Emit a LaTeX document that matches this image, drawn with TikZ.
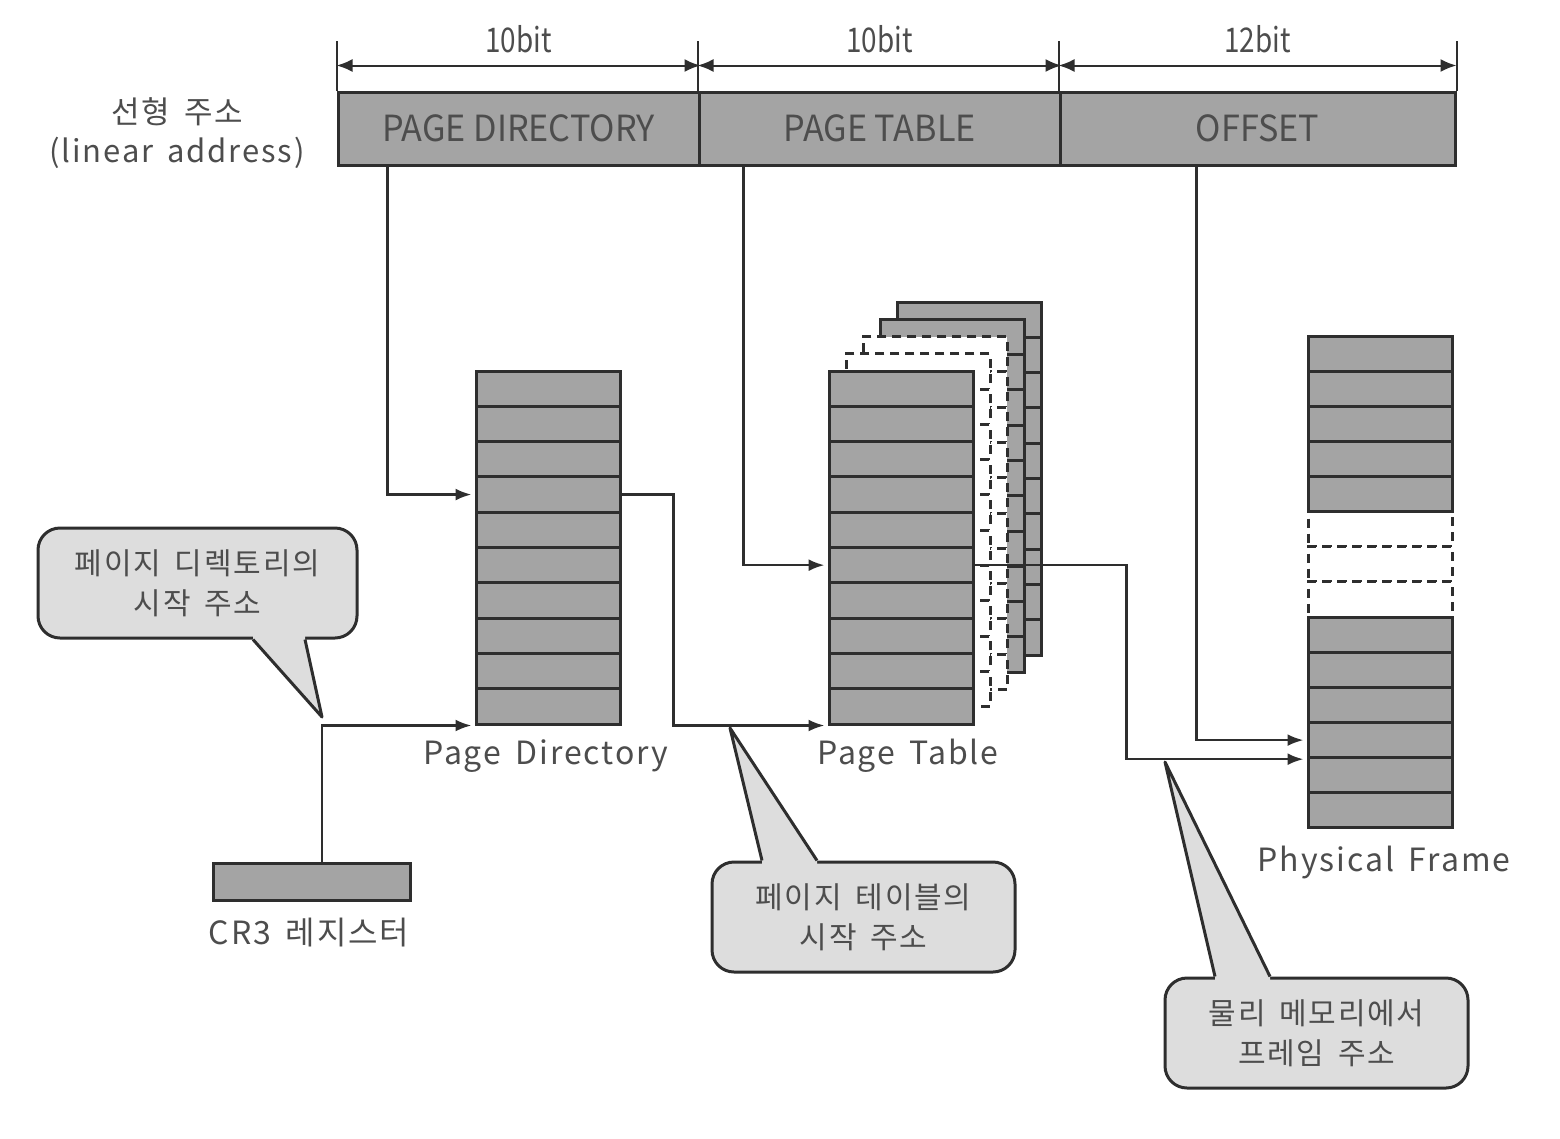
\documentclass[tikz,border=0pt]{standalone}
\usepackage{fontspec}
\setmainfont{Noto Sans CJK KR}
\newfontfamily\labelfont[LetterSpace=6,WordSpace=1.6]{Noto Sans CJK KR}
\usetikzlibrary{arrows.meta,positioning,calc}

\definecolor{cellgray}{HTML}{A4A4A4}
\definecolor{bubblegray}{HTML}{DDDDDD}
\definecolor{linegray}{HTML}{2E2E2E}
\definecolor{textgray}{HTML}{4D4D4D}

\tikzset{
  field/.style={draw=linegray, line width=3pt, fill=cellgray, minimum height=73pt, inner sep=0pt, text=textgray, font=\fontsize{36}{36}\selectfont},
  cell/.style={draw=linegray, line width=3pt, fill=cellgray, minimum width=144pt, minimum height=35.3pt, inner sep=0pt},
  ghost/.style={cell, fill=white, line width=3pt, dash pattern=on 9pt off 6pt},
  lbl/.style={text=textgray, font=\labelfont\fontsize{32}{32}\selectfont, inner sep=0pt},
  conn/.style={draw=linegray, line width=2.5pt},
  arr/.style={conn, -{Latex[length=16pt,width=12pt]}, shorten >=3pt},
  dim/.style={draw=linegray, line width=2pt},
  dimarr/.style={dim, {Latex[length=16pt,width=13pt]}-{Latex[length=16pt,width=13pt]}},
  bubble/.style={draw=linegray, line width=3pt, fill=bubblegray, rounded corners=22pt, minimum height=110pt, align=center, text=textgray, font=\labelfont\fontsize{30}{40}\selectfont}
}

\begin{document}
\begin{tikzpicture}[x=1pt, y=-1pt]
    \useasboundingbox (0,0) rectangle (1560,1138);

    % linear address
    \node[lbl, align=center, font=\labelfont\fontsize{31}{39}\selectfont] (lin) at (177,133) {선형 주소\\(linear address)};

    \node[field, minimum width=361pt] (pdf) at (518.5,128.5) {\scalebox{0.95}[1]{PAGE DIRECTORY}};
    \node[field, minimum width=361pt] (ptf) at (879.5,128.5) {\scalebox{0.95}[1]{PAGE TABLE}};
    \node[field, minimum width=395pt] (offf) at (1257.5,128.5) {\scalebox{0.95}[1]{OFFSET}};

    % bit widths
    \draw[dim] (pdf.north west) -- ++(0,-50);
    \draw[dim] (ptf.north west) -- ++(0,-50);
    \draw[dim] (offf.north west) -- ++(0,-50);
    \draw[dim] (offf.north east) -- ++(0,-50);
    \draw[dimarr] ([yshift=25pt]pdf.north west) -- ([yshift=25pt]pdf.north east)
        node[midway, above=12pt, inner sep=0pt, text=textgray, font=\fontsize{34}{34}\selectfont] (bits1) {\scalebox{0.82}[1]{10bit}};
    \draw[dimarr] ([yshift=25pt]ptf.north west) -- ([yshift=25pt]ptf.north east)
        node[midway, above=12pt, inner sep=0pt, text=textgray, font=\fontsize{34}{34}\selectfont] (bits2) {\scalebox{0.82}[1]{10bit}};
    \draw[dimarr] ([yshift=25pt]offf.north west) -- ([yshift=25pt]offf.north east)
        node[midway, above=12pt, inner sep=0pt, text=textgray, font=\fontsize{34}{34}\selectfont] (bits3) {\scalebox{0.82}[1]{12bit}};

    % page directory
    \foreach \i in {1,...,10}
        \node[cell] (pd-\i) at (548,{371+(\i-0.5)*35.3}) {};
    \node[lbl] (pdlbl) at (546,756) {Page Directory};

    % page tables (stack)
    \foreach \k in {4,3}
        \foreach \i in {1,...,10}
            \node[cell] (pt\k-\i) at ({901+17*\k},{371-17.25*\k+(\i-0.5)*35.3}) {};
    \foreach \k in {2,1}
        \foreach \i in {1,...,10}
            \node[ghost] (pt\k-\i) at ({901+17*\k},{371-17.25*\k+(\i-0.5)*35.3}) {};
    \foreach \i in {1,...,10}
        \node[cell] (pt-\i) at (901,{371+(\i-0.5)*35.3}) {};
    \node[lbl] (ptlbl) at (908,756) {Page Table};

    % physical frame
    \foreach \i in {6,7,8}
        \node[ghost, minimum height=35.14pt] (fr-\i) at (1380,{336+(\i-0.5)*35.14}) {};
    \foreach \i in {1,...,5,9,10,...,14}
        \node[cell, minimum height=35.14pt] (fr-\i) at (1380,{336+(\i-0.5)*35.14}) {};
    \node[lbl] (frlbl) at (1384,862) {Physical Frame};

    % CR3
    \node[cell, minimum width=197pt, minimum height=37pt] (cr3) at (311.5,881.5) {};
    \node[lbl] (cr3lbl) at (309,933) {CR3 레지스터};

    % connectors
    \draw[arr] ([xshift=51pt]pdf.south west) |- (pd-4.west);
    \draw[arr] ([xshift=46pt]ptf.south west) |- (pt-6.west);
    \draw[arr] ([xshift=138pt]offf.south west) |- (fr-12.west);
    \draw[arr] (pd-4.east) -- ++(52,0) |- (pt-10.south west);
    \draw[arr] (pt-6.east) -- ++(152,0) |- (fr-12.south west);
    \draw[arr] ([xshift=10.5pt]cr3.north) |- (pd-10.south west);

    % callouts
    \node[bubble, minimum width=319pt] (cdir) at (197.5,583) {페이지 디렉토리의\\시작 주소};
    \coordinate (tipdir) at (322,717);
    \fill[bubblegray] ([xshift=55.5pt,yshift=4pt]cdir.south) -- ([xshift=55.5pt]cdir.south) -- (tipdir) -- ([xshift=107.5pt]cdir.south) -- ([xshift=107.5pt,yshift=4pt]cdir.south) -- cycle;
    \draw[conn, line width=3pt, line join=round] ([xshift=55.5pt]cdir.south) -- (tipdir) -- ([xshift=107.5pt]cdir.south);

    \node[bubble, minimum width=303pt] (ctab) at (863.5,917) {페이지 테이블의\\시작 주소};
    \coordinate (tiptab) at (730,728);
    \fill[bubblegray] ([xshift=-101.5pt,yshift=-4pt]ctab.north) -- ([xshift=-101.5pt]ctab.north) -- (tiptab) -- ([xshift=-46.5pt]ctab.north) -- ([xshift=-46.5pt,yshift=-4pt]ctab.north) -- cycle;
    \draw[conn, line width=3pt, line join=round] ([xshift=-101.5pt]ctab.north) -- (tiptab) -- ([xshift=-46.5pt]ctab.north);

    \node[bubble, minimum width=303pt] (cfr) at (1316.5,1033) {물리 메모리에서\\프레임 주소};
    \coordinate (tipfr) at (1165,762);
    \fill[bubblegray] ([xshift=-101.5pt,yshift=-4pt]cfr.north) -- ([xshift=-101.5pt]cfr.north) -- (tipfr) -- ([xshift=-46.5pt]cfr.north) -- ([xshift=-46.5pt,yshift=-4pt]cfr.north) -- cycle;
    \draw[conn, line width=3pt, line join=round] ([xshift=-101.5pt]cfr.north) -- (tipfr) -- ([xshift=-46.5pt]cfr.north);

\end{tikzpicture}
\end{document}
